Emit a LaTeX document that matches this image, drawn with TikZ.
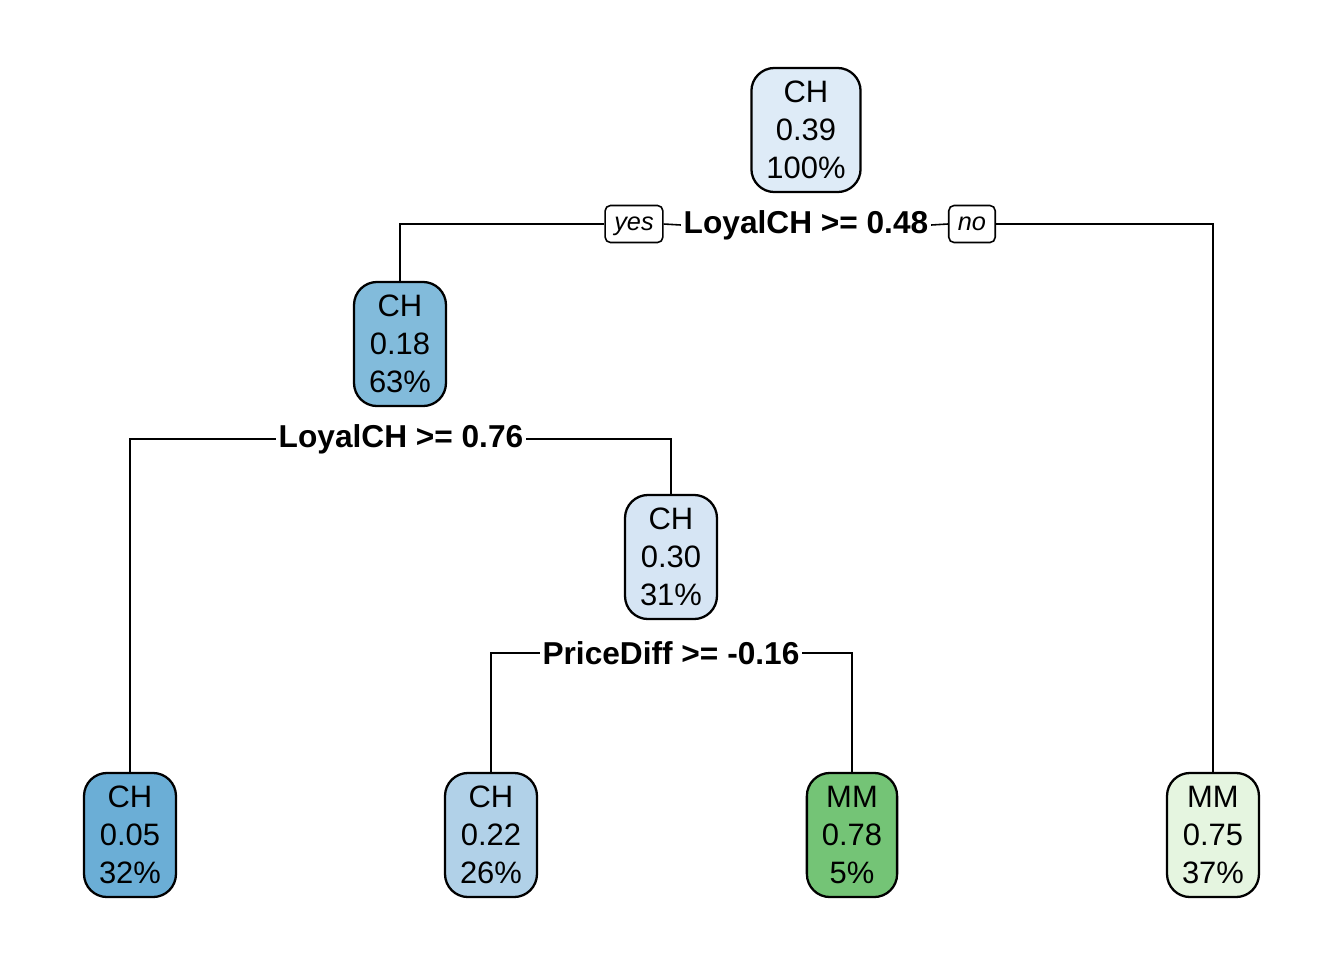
\documentclass[tikz,border=0pt]{standalone}
\usepackage{fontspec}
\setmainfont{Liberation Sans}
\definecolor{cRoot}{HTML}{DEEBF7}
\definecolor{cMid}{HTML}{82BBDB}
\definecolor{cMidb}{HTML}{D6E5F4}
\definecolor{cLfa}{HTML}{6BAED6}
\definecolor{cLfb}{HTML}{B1D1E8}
\definecolor{cLfc}{HTML}{74C476}
\definecolor{cLfd}{HTML}{E5F5E0}
\begin{document}
\begin{tikzpicture}[x=0.01cm,y=-0.01cm,line width=0.45pt,
  leaf/.style={draw, line width=0.65pt, rounded corners=0.23cm, align=center, inner xsep=0.15cm, minimum height=1.24cm, font=\fontsize{8.8}{10.8}\selectfont},
  split/.style={inner xsep=0.6pt, inner ysep=1pt, font=\fontsize{9}{10}\selectfont\bfseries},
  yn/.style={draw, rounded corners=1.5pt, line width=0.45pt, minimum height=0.37cm, inner xsep=2.6pt, inner ysep=1pt, text height=5.2pt, text depth=1.6pt, font=\fontsize{7.2}{8}\selectfont\itshape}]
  \useasboundingbox (0,0) rectangle (1344,960);

  \node[leaf, fill=cRoot] (root) at (806,130) {CH\\0.39\\100\%};
  \node[leaf, fill=cMid] (n2) at (400,344) {CH\\0.18\\63\%};
  \node[leaf, fill=cMidb] (n5) at (671,557) {CH\\0.30\\31\%};

  \node[leaf, fill=cLfa] (l4) at (130,835) {CH\\0.05\\32\%};
  \node[leaf, fill=cLfb] (l10) at (491,835) {CH\\0.22\\26\%};
  \node[leaf, fill=cLfc] (l11) at (852,835) {MM\\0.78\\5\%};
  \node[leaf, fill=cLfd] (l3) at (1213,835) {MM\\0.75\\37\%};

  \node[split] (s1) at (806,225) {LoyalCH >= 0.48};
  \node[split] (s2) at (401,439) {LoyalCH >= 0.76};
  \node[split] (s5) at (671,653) {PriceDiff >= -0.16};
  \node[yn] (yes) at (634,224) {yes};
  \node[yn] (no) at (972,224) {no};

    \draw (s1.west) -- (yes.east);
    \draw (yes.west) -| (n2.north);
    \draw (s1.east) -- (no.west);
    \draw (no.east) -| (l3.north);
    \draw (s2.west) -| (l4.north);
    \draw (s2.east) -| (n5.north);
    \draw (s5.west) -| (l10.north);
    \draw (s5.east) -| (l11.north);

\end{tikzpicture}
\end{document}
